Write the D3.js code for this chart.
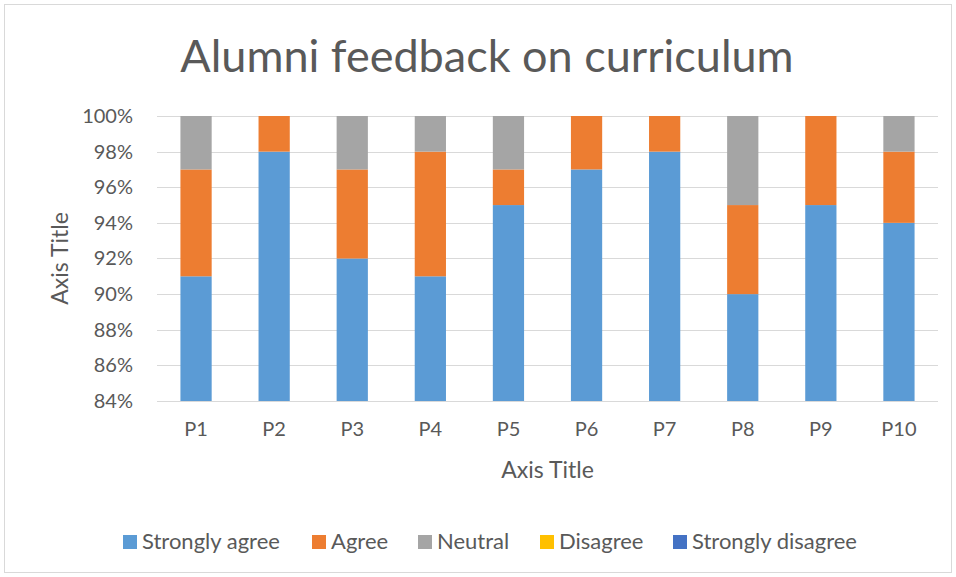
<!DOCTYPE html>
<html>
<head>
<meta charset="utf-8">
<script src="https://cdn.jsdelivr.net/npm/d3@7"></script>
<style>
  body { margin: 0; background: #fff; }
  text { font-family: Lato, "Open Sans", sans-serif; fill: #595959; }
</style>
</head>
<body>
<div id="chart"></div>
<script>
// data (percent of respondents)
var categories = ['P1', 'P2', 'P3', 'P4', 'P5', 'P6', 'P7', 'P8', 'P9', 'P10'];
var seriesNames = ['Strongly agree', 'Agree', 'Neutral', 'Disagree', 'Strongly disagree'];
var stronglyAgree = [91, 98, 92, 91, 95, 97, 98, 90, 95, 94];
var agree = [6, 2, 5, 7, 2, 3, 2, 5, 5, 4];
var neutral = [3, 0, 3, 2, 3, 0, 0, 5, 0, 2];
var disagree = [0, 0, 0, 0, 0, 0, 0, 0, 0, 0];
var stronglyDisagree = [0, 0, 0, 0, 0, 0, 0, 0, 0, 0];
var yTicks = [0.84, 0.86, 0.88, 0.90, 0.92, 0.94, 0.96, 0.98, 1.00];
var colors = ['#5B9BD5', '#ED7D31', '#A5A5A5', '#FFC000', '#4472C4'];

var width = 956;
var height = 577;
var plotLeft = 157, plotRight = 938, plotTop = 116, plotBottom = 401;

var svg = d3.select('#chart')
	.append('svg')
	.attr('width', width)
	.attr('height', height);

// chart frame
svg.append('rect')
	.attr('x', 4.5)
	.attr('y', 4.5)
	.attr('width', width - 9)
	.attr('height', height - 9)
	.attr('fill', 'white')
	.style('stroke', '#D9D9D9')
	.style('stroke-width', '1px');

var table = categories.map(function (c, i) {
	return {
		cat: c,
		'Strongly agree': stronglyAgree[i] / 100,
		'Agree': agree[i] / 100,
		'Neutral': neutral[i] / 100,
		'Disagree': disagree[i] / 100,
		'Strongly disagree': stronglyDisagree[i] / 100
	};
});
var stacked = d3.stack().keys(seriesNames)(table);

var x = d3.scaleBand()
	.domain(categories)
	.range([plotLeft, plotRight])
	.paddingInner(0.6)
	.paddingOuter(0.3);

var y = d3.scaleLinear()
	.domain([0.84, 1])
	.range([plotBottom, plotTop])
	.clamp(true);

// gridlines
svg.append('g')
	.selectAll('line')
	.data(yTicks)
	.enter()
	.append('line')
	.attr('x1', plotLeft)
	.attr('x2', plotRight)
	.attr('y1', function (d) { return Math.round(y(d)) + 0.5; })
	.attr('y2', function (d) { return Math.round(y(d)) + 0.5; })
	.style('stroke', '#D9D9D9')
	.style('stroke-width', '1px');

// bars
svg.append('g')
	.selectAll('g')
	.data(stacked)
	.enter()
	.append('g')
	.attr('fill', function (d, i) { return colors[i]; })
	.selectAll('rect')
	.data(function (d) { return d; })
	.enter()
	.append('rect')
	.attr('x', function (d) { return x(d.data.cat); })
	.attr('y', function (d) { return y(d[1]); })
	.attr('width', x.bandwidth())
	.attr('height', function (d) { return y(d[0]) - y(d[1]); });

// y axis
var yAxis = svg.append('g')
	.attr('transform', 'translate(' + plotLeft + ',0)')
	.call(d3.axisLeft(y).tickValues(yTicks).tickFormat(d3.format('.0%')).tickSize(0).tickPadding(24));
yAxis.select('.domain').remove();
yAxis.selectAll('text')
	.style('font-size', '20px')
	.attr('fill', '#595959');

// x axis
var xAxis = svg.append('g')
	.attr('transform', 'translate(0,' + plotBottom + ')')
	.call(d3.axisBottom(x.copy().paddingInner(0).paddingOuter(0)).tickSize(0).tickPadding(21));
xAxis.select('.domain').remove();
xAxis.selectAll('text')
	.style('font-size', '20px')
	.attr('fill', '#595959');

// title
svg.append('text')
	.attr('x', 487)
	.attr('y', 72)
	.attr('text-anchor', 'middle')
	.style('font-size', '45px')
	.text('Alumni feedback on curriculum');

// axis titles
svg.append('text')
	.attr('x', (plotLeft + plotRight) / 2)
	.attr('y', 478)
	.attr('text-anchor', 'middle')
	.style('font-size', '23px')
	.text('Axis Title');

svg.append('text')
	.attr('transform', 'translate(68,' + (plotTop + plotBottom) / 2 + ') rotate(-90)')
	.attr('text-anchor', 'middle')
	.style('font-size', '23px')
	.text('Axis Title');

// legend
var legendX = [123, 312, 418, 540, 673];
var legend = svg.append('g')
	.selectAll('g')
	.data(seriesNames)
	.enter()
	.append('g')
	.attr('transform', function (d, i) { return 'translate(' + legendX[i] + ',542)'; });
legend.append('rect')
	.attr('x', 0)
	.attr('y', -7)
	.attr('width', 14)
	.attr('height', 14)
	.attr('fill', function (d, i) { return colors[i]; });
legend.append('text')
	.attr('x', 19)
	.attr('y', 7)
	.style('font-size', '22px')
	.text(function (d) { return d; });
</script>
</body>
</html>
